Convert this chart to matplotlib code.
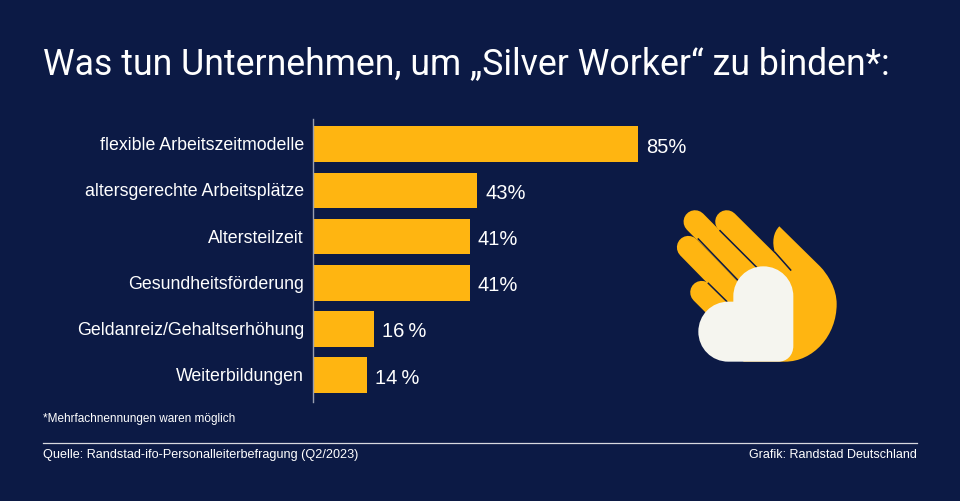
import matplotlib
matplotlib.use('Agg')
import matplotlib.pyplot as plt
from matplotlib.path import Path
from matplotlib.patches import PathPatch
from matplotlib.transforms import ScaledTranslation

categories = ['flexible Arbeitszeitmodelle', 'altersgerechte Arbeitsplätze', 'Altersteilzeit',
              'Gesundheitsförderung', 'Geldanreiz/Gehaltserhöhung', 'Weiterbildungen']
values = [85, 43, 41, 41, 16, 14]
value_labels = ['85%', '43%', '41%', '41%', '16\u2009%', '14\u2009%']
title = 'Was tun Unternehmen, um „Silver Worker“ zu binden*:'
footnote = '*Mehrfachnennungen waren möglich'
source = 'Quelle: Randstad-ifo-Personalleiterbefragung (Q2/2023)'
credit = 'Grafik: Randstad Deutschland'

NAVY = '#0c1a45'
YELLOW = '#ffb511'
CREAM = '#f5f5ef'
W, H = 960, 502

plt.rcParams['font.family'] = ['Liberation Sans', 'DejaVu Sans']
fig = plt.figure(figsize=(9.6, 5.02), dpi=100, facecolor=NAVY)

# chart axes, left edge on the baseline
ax = fig.add_axes([313 / W, (H - 402.5) / H, (W - 313) / W, 283 / H], facecolor='none')
ax.barh(range(len(values)), values, height=0.77, color=YELLOW)
ax.set_xlim(0, (W - 313) / 3.825)
ax.set_ylim(5.568, -0.557)
ax.set_yticks(range(len(categories)), categories)
ax.tick_params(axis='y', length=0, pad=6.5, labelsize=12.75, labelcolor='white')
for lab in ax.get_yticklabels():
    lab.set_transform(lab.get_transform() + ScaledTranslation(0, 1.5 / 100, fig.dpi_scale_trans))
ax.set_xticks([])
for s in ['top', 'right', 'bottom']:
    ax.spines[s].set_visible(False)
ax.spines['left'].set_color('#9a9fb0')
ax.spines['left'].set_linewidth(1)
for i, v in enumerate(values):
    ax.text(v + 2.1, i + 0.04, value_labels[i], color='white', fontsize=14.5, va='center', ha='left')

# overlay in pixel coordinates for texts, rule and icon
ov = fig.add_axes([0, 0, 1, 1], facecolor='none')
ov.set_xlim(0, W)
ov.set_ylim(H, 0)
ov.axis('off')
ov.text(43, 64, title, color='white', fontsize=25.7, family=['Roboto', 'DejaVu Sans'], va='center', ha='left')
ov.text(43, 419, footnote, color='white', fontsize=8.5, va='center', ha='left')
ov.text(43, 455, source, color='white', fontsize=9.05, va='center', ha='left')
ov.text(917, 455, credit, color='white', fontsize=9, va='center', ha='right')
ov.plot([43, 917], [443.5, 443.5], color='#d8d9df', lw=0.9)


def zx(p):
    return (660 + p[0] / 3, 190 + p[1] / 3)


# hand icon, points taken from the zoomed crop
fingers = [((105, 98), (285, 280)), ((200, 98), (365, 262)), ((85, 175), (225, 318)), ((125, 310), (195, 380))]
for a, b in fingers:
    a, b = zx(a), zx(b)
    ov.plot([a[0], b[0]], [a[1], b[1]], color=YELLOW, lw=16.5, solid_capstyle='round', zorder=2)

M, L, C, Z = Path.MOVETO, Path.LINETO, Path.CURVE4, Path.CLOSEPOLY
palm = [(358, 112), (480, 232), (505, 258), (530, 300), (530, 345), (530, 440), (460, 518), (375, 518),
        (250, 518), (250, 300), (345, 190), (335, 160), (340, 130), (358, 112), (358, 112)]
palm_codes = [M, L, C, C, C, C, C, C, L, L, L, C, C, C, Z]
ov.add_patch(PathPatch(Path([zx(p) for p in palm], palm_codes), fc=YELLOW, ec='none', zorder=3))

gaps = [((115, 150), (232, 272)), ((180, 125), (290, 235)), ((145, 283), (200, 337)), ((345, 190), (392, 243))]
for a, b in gaps:
    a, b = zx(a), zx(b)
    ov.plot([a[0], b[0]], [a[1], b[1]], color=NAVY, lw=1.1, zorder=4)

k = 50
heart = [(220, 338), (220, 322), (220, 322 - k), (260, 232), (310, 232), (360, 232), (400, 322 - k), (400, 322),
         (400, 470), (400, 500), (380, 518), (355, 518), (205, 518), (205 - k, 518), (115, 478),
         (115, 428), (115, 378), (205 - k, 338), (205, 338), (220, 338)]
heart_codes = [M, L] + [C] * 6 + [L] + [C] * 3 + [L] + [C] * 6 + [Z]
ov.add_patch(PathPatch(Path([zx(p) for p in heart], heart_codes), fc=CREAM, ec='none', zorder=5))

fig.savefig('out.png', dpi=100, facecolor=NAVY)
